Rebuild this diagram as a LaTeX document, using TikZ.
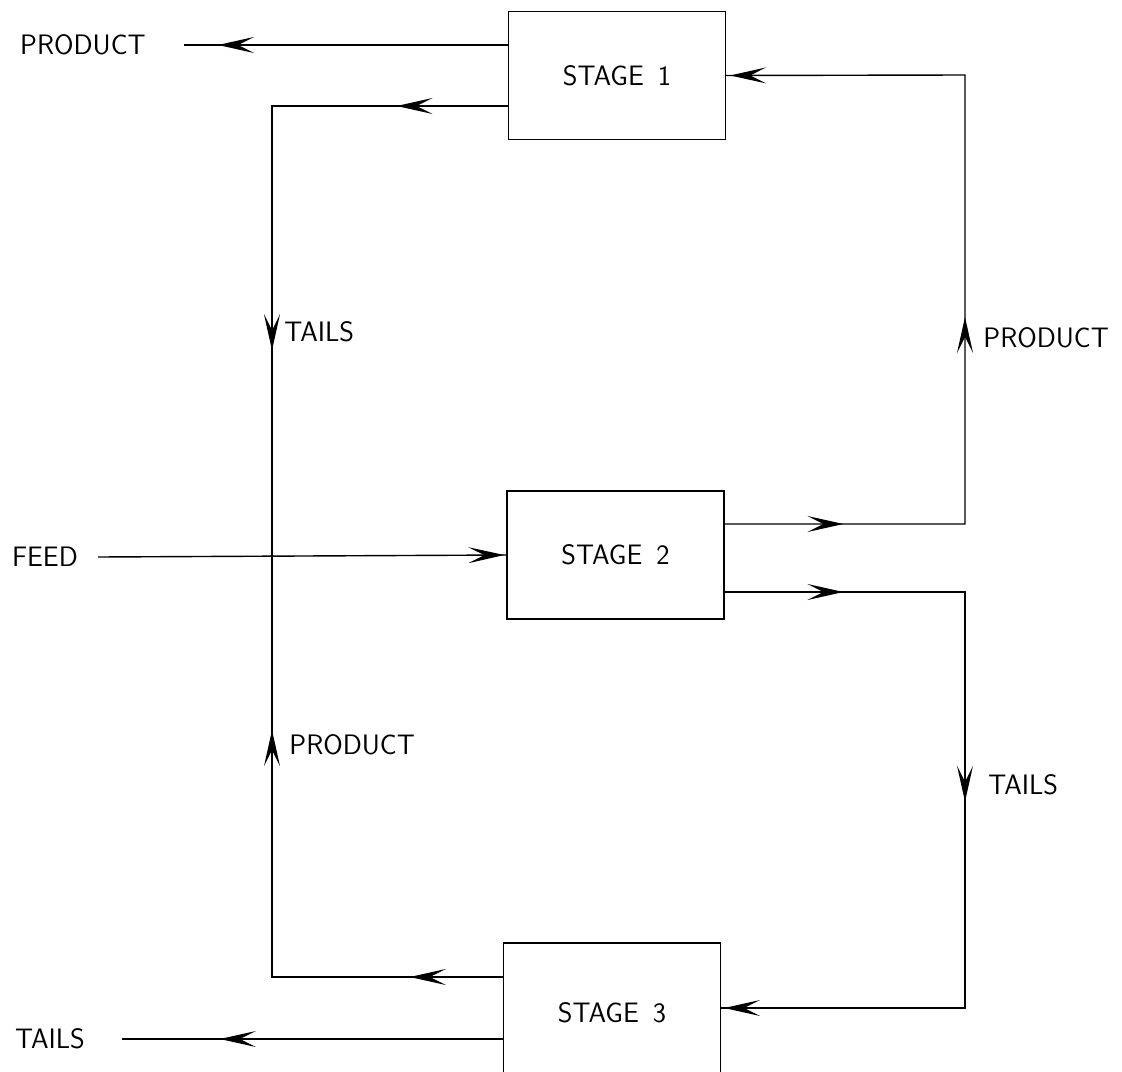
\documentclass[tikz,border=0pt]{standalone}
\usepackage{tikz}
\usetikzlibrary{positioning,arrows.meta,decorations.markings}
\tikzset{
  flowtip/.tip={Stealth[length=9mm,width=4mm,inset=4mm]},
  stagebox/.style={draw, minimum width=5.42cm, minimum height=3.2cm},
  flow/.style={postaction={decorate}, decoration=markings},
  tipat/.style={decoration={mark=at position #1 with {\arrow{flowtip}}}}
}

\begin{document}
\begin{tikzpicture}[x=0.025cm, y=-0.025cm, line width=1pt,
    font=\fontsize{20}{24}\selectfont\sffamily]
  \useasboundingbox (0,0) rectangle (1122,1071);
  \node[stagebox] (s1) at (617,75.5) {STAGE\hspace{0.5em}1};
  \node[stagebox] (s2) at (615.5,555) {STAGE\hspace{0.5em}2};
  \node[stagebox, minimum height=3.5cm] (s3) at (612,1013) {STAGE\hspace{0.5em}3};

  \node (pOut) at (83,45) {PRODUCT};
  \node (fIn) at (45,557) {FEED};
  \node (tOut) at (50,1039) {TAILS};
  \node[anchor=west] (tailsA) at (279,332) {TAILS};
  \node[anchor=west] (prodA) at (284,745) {PRODUCT};
  \node[anchor=west] (prodB) at (978,338) {PRODUCT};
  \node[anchor=west] (tailsB) at (983,785) {TAILS};

  \coordinate (pEnd) at (184,45);
  \coordinate (fStart) at (98,557);
  \coordinate (tEnd) at (122,1039);
  \coordinate (mix) at (272,557);
  \coordinate (rUp) at (965,75);
  \coordinate (rDown) at (965,1008);

  \draw[flow, tipat=0.895] (s1.west |- pOut) -- (pEnd);
  \draw[flow, tipat=0.162, tipat=0.699] (s1.west |- 0,106) -| (mix);
  \draw[flow, tipat=0.143, tipat=0.734] (s3.west |- 0,977) -| (mix);
  \draw[flow, tipat=0.995] (fStart) -- (s2.west);
  \draw[flow, tipat=0.128, tipat=0.482, tipat=0.9957] (s2.east |- 0,524) -| (rUp) -- (s1.east);
  \draw[flow, tipat=0.132, tipat=0.5, tipat=0.9967] (s2.east |- 0,592) -| (rDown) -- (s3.east |- rDown);
  \draw[flow, tipat=0.743] (s3.west |- tOut) -- (tEnd);
\end{tikzpicture}
\end{document}
